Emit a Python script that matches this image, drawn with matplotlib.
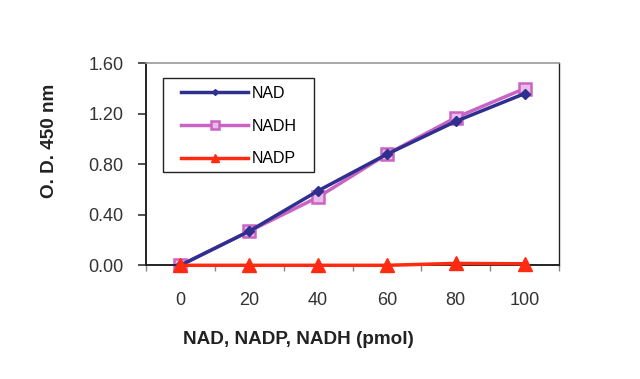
import matplotlib
matplotlib.use("Agg")
import matplotlib.pyplot as plt
from matplotlib.patches import Rectangle

categories = ["0", "20", "40", "60", "80", "100"]
nad = [0.00, 0.27, 0.59, 0.88, 1.14, 1.36]
nadh = [0.00, 0.27, 0.54, 0.88, 1.17, 1.40]
nadp = [0.00, 0.00, 0.00, 0.00, 0.015, 0.012]
yticks = [0.0, 0.4, 0.8, 1.2, 1.6]
ytick_labels = ["0.00", "0.40", "0.80", "1.20", "1.60"]

plt.rcParams['font.family'] = ['Liberation Sans', 'DejaVu Sans']

W, H = 640, 379
fig = plt.figure(figsize=(6.4, 3.79), dpi=100)
ax = fig.add_axes([146/W, 1-265.3/H, (559-146)/W, (265.3-63.3)/H])

x = list(range(len(categories)))
ax.plot(x, nad, color='#2e2f8f', lw=2.5, marker='D', ms=5, mfc='#2e2f8f', mec='#2e2f8f',
        label='NAD', zorder=3, clip_on=False)
ax.plot(x, nadh, color='#c964c4', lw=2.5, marker='s', ms=8.5, mfc='#ebbce8', mec='#c964c4', mew=1.8,
        label='NADH', zorder=2, clip_on=False)
ax.plot(x, nadp, color='#ff2a12', lw=2.5, marker='^', ms=9.5, mfc='#ff2a12', mec='#ff2a12',
        label='NADP', zorder=4, clip_on=False)

ax.set_xlim(-0.5, len(categories) - 0.5)
ax.set_ylim(0, 1.6)
ax.set_yticks(yticks)
ax.set_yticklabels(ytick_labels)
ax.set_xticks([i - 0.5 for i in range(len(categories) + 1)])
ax.set_xticklabels([])
ax.set_xticks(x, minor=True)
ax.set_xticklabels(categories, minor=True)
ax.tick_params(axis='x', which='major', direction='out', length=4, width=1, color='#888888')
ax.tick_params(axis='x', which='minor', length=0, pad=19, labelsize=13, labelcolor='#333333')
ax.tick_params(axis='y', direction='out', length=6, width=1.2, pad=10, labelsize=13, labelcolor='#333333', color='#333333')

for s in ['left', 'bottom']:
    ax.spines[s].set_color('#222222')
    ax.spines[s].set_linewidth(1.4)
ax.spines['top'].set_color('#999999')
ax.spines['top'].set_linewidth(1.2)
ax.spines['right'].set_color('#222222')
ax.spines['right'].set_linewidth(1.0)

fig.text(298/W, 1-340/H, "NAD, NADP, NADH (pmol)", ha='center', va='center',
         fontsize=13.6, fontweight='bold', color='#222222')
fig.text(50/W, 1-141/H, "O. D. 450 nm", ha='center', va='center', rotation=90,
         fontsize=13.6, fontweight='bold', color='#222222')

# legend frame
frame = Rectangle((163/W, 1-172/H), (314-163)/W, (172-77.7)/H,
                  transform=fig.transFigure, fill=True, facecolor='white',
                  edgecolor='#222222', linewidth=1.0, zorder=5, clip_on=False)
ax.add_artist(frame)
leg = ax.legend(loc='upper left', bbox_to_anchor=(181/W, 1-86/H), bbox_transform=fig.transFigure,
                borderaxespad=0, frameon=False, prop={'size': 11.5},
                handlelength=4.2, handletextpad=0.2, labelspacing=1.1, borderpad=0,
                markerscale=0.6)
leg.set_zorder(6)

fig.savefig("out.png", dpi=100, facecolor='white')
